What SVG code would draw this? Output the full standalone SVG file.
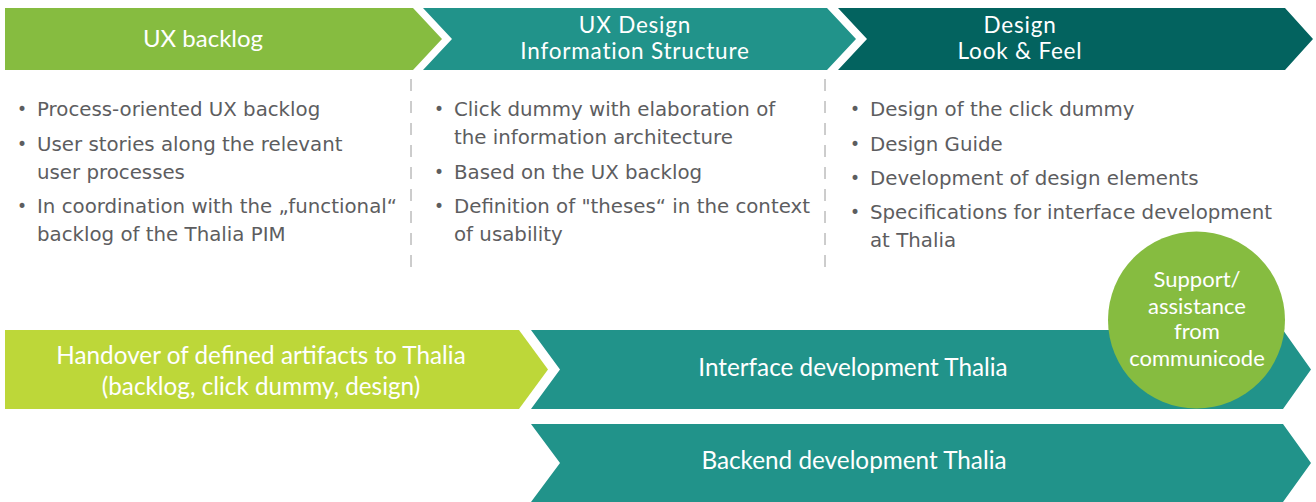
<svg xmlns="http://www.w3.org/2000/svg" width="1316" height="502" viewBox="0 0 1316 502">
<style>
.title{font-family:Lato,"Liberation Sans",sans-serif;font-size:24px;fill:#ffffff;text-anchor:middle}
.title2{font-family:Lato,"Liberation Sans",sans-serif;font-size:22.5px;letter-spacing:0.8px;fill:#ffffff;text-anchor:middle}
.label{font-family:Lato,"Liberation Sans",sans-serif;font-size:24.3px;fill:#ffffff;text-anchor:middle}
.circ{font-family:Lato,"Liberation Sans",sans-serif;font-size:22px;fill:#ffffff;text-anchor:middle}
.bul{font-family:"DejaVu Sans","Liberation Sans",sans-serif;font-size:19.8px;fill:#5d5d5f}
.dot{font-family:"DejaVu Sans","Liberation Sans",sans-serif;font-size:17px;fill:#5d5d5f}
.divider{stroke:#9a9a9a;stroke-width:1;stroke-dasharray:12 10;fill:none}
</style>
<rect width="1316" height="502" fill="#ffffff"/>
<g id="phase-ux-backlog">
<polygon points="5,8 413,8 442,39 413,70 5,70" fill="#86bc40"/>
<text class="title" x="203" y="47">UX backlog</text>
</g>
<g id="phase-ux-design">
<polygon points="423,8 827,8 856,39 827,70 423,70 452,39" fill="#21938a"/>
<text class="title2" x="635" y="33">UX Design</text>
<text class="title2" x="635" y="59">Information Structure</text>
</g>
<g id="phase-design-look">
<polygon points="838,8 1285,8 1313,39 1285,70 838,70 867,39" fill="#03635f"/>
<text class="title2" x="1020" y="33">Design</text>
<text class="title2" x="1020" y="59">Look &amp; Feel</text>
</g>
<g id="dividers">
<line class="divider" x1="411" y1="79" x2="411" y2="276"/>
<line class="divider" x1="825" y1="79" x2="825" y2="276"/>
</g>
<g id="list-ux-backlog">
<text class="dot" x="17" y="115">•</text>
<text class="bul" x="37" y="116">Process-oriented UX backlog</text>
<text class="dot" x="17" y="150">•</text>
<text class="bul" x="37" y="151">User stories along the relevant</text>
<text class="bul" x="37" y="179">user processes</text>
<text class="dot" x="17" y="212">•</text>
<text class="bul" x="37" y="213">In coordination with the „functional“</text>
<text class="bul" x="37" y="241">backlog of the Thalia PIM</text>
</g>
<g id="list-ux-design">
<text class="dot" x="434" y="115">•</text>
<text class="bul" x="454" y="116">Click dummy with elaboration of</text>
<text class="bul" x="454" y="144">the information architecture</text>
<text class="dot" x="434" y="178">•</text>
<text class="bul" x="454" y="179">Based on the UX backlog</text>
<text class="dot" x="434" y="212">•</text>
<text class="bul" x="454" y="213">Definition of "theses“ in the context</text>
<text class="bul" x="454" y="241">of usability</text>
</g>
<g id="list-design-look">
<text class="dot" x="850" y="115">•</text>
<text class="bul" x="870" y="116">Design of the click dummy</text>
<text class="dot" x="850" y="150">•</text>
<text class="bul" x="870" y="151">Design Guide</text>
<text class="dot" x="850" y="184">•</text>
<text class="bul" x="870" y="185">Development of design elements</text>
<text class="dot" x="850" y="218">•</text>
<text class="bul" x="870" y="219">Specifications for interface development</text>
<text class="bul" x="870" y="247">at Thalia</text>
</g>
<g id="handover">
<polygon points="5,330 519,330 548,369.5 519,409 5,409" fill="#bdd739"/>
<text class="label" x="261" y="364">Handover of defined artifacts to Thalia</text>
<text class="label" x="261" y="395">(backlog, click dummy, design)</text>
</g>
<g id="interface-dev">
<polygon points="531,330 1283,330 1311,369.5 1283,409 531,409 560,369.5" fill="#21938a"/>
<text class="label" x="853" y="376">Interface development Thalia</text>
</g>
<g id="backend-dev">
<polygon points="531,424 1283,424 1311,463 1283,502 531,502 560,463" fill="#21938a"/>
<text class="label" x="854" y="469">Backend development Thalia</text>
</g>
<g id="support-circle">
<circle cx="1196.5" cy="320" r="88.5" fill="#86bc40"/>
<text class="circ" x="1197" y="287">Support/</text>
<text class="circ" x="1197" y="314">assistance</text>
<text class="circ" x="1197" y="339">from</text>
<text class="circ" x="1197" y="366">communicode</text>
</g>
</svg>
